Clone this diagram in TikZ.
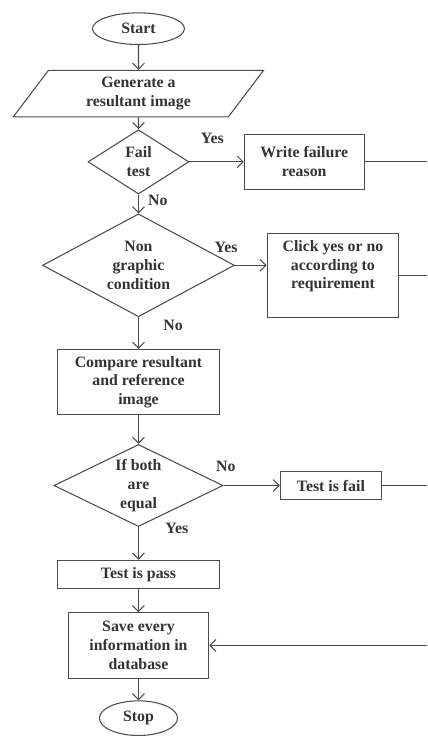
\documentclass[tikz,border=0pt]{standalone}
\usepackage{fontspec}
\setmainfont{Liberation Serif}
\usetikzlibrary{arrows.meta,positioning,shapes.geometric}

\begin{document}
\begin{tikzpicture}[
  font=\bfseries\fontsize{12}{14.25}\selectfont,
  every node/.style={text=black!80},
  process/.style={rectangle, draw=black!70, line width=0.8pt, align=center, inner sep=2pt},
  startstop/.style={ellipse, draw=black!70, line width=0.8pt, inner sep=0pt},
  io/.style={trapezium, trapezium left angle=43, trapezium right angle=137, trapezium stretches body, draw=black!70, line width=0.8pt, align=center, inner sep=0pt},
  decision/.style={diamond, draw=black!70, line width=0.8pt, align=center, inner sep=0pt},
  answer/.style={inner sep=1pt},
  arrow/.style={-{Straight Barb[length=4.5pt, width=9pt]}, draw=black!70, line width=0.8pt},
  line/.style={draw=black!70, line width=0.8pt}
]
\node[startstop, minimum width=69.75pt, minimum height=24pt] (start) {Start};
\node[io, below=18.75pt of start, minimum width=189.75pt, minimum height=35.25pt] (generate) {Generate a\\resultant image};
\node[decision, below=9pt of generate, shape aspect=1.57, minimum width=76.5pt, minimum height=48.75pt] (fail) {Fail\\test};
\node[decision, below=14.25pt of fail, shape aspect=1.87, minimum width=145.5pt, minimum height=78pt] (nongraphic) {Non\\graphic\\condition};
\node[process, below=24pt of nongraphic, minimum width=122.25pt, minimum height=49.5pt] (compare) {Compare resultant\\and reference\\image};
\node[decision, below=21.75pt of compare, shape aspect=2.06, minimum width=128.25pt, minimum height=62.25pt] (equal) {If both\\are\\equal};
\node[process, below=24.75pt of equal, minimum width=122.25pt, minimum height=21.75pt] (pass) {Test is pass};
\node[process, below=17.25pt of pass, minimum width=106.5pt, minimum height=49.5pt] (save) {Save every\\information in\\database};
\node[startstop, below=16.5pt of save, minimum width=59.25pt, minimum height=26.25pt] (stop) {Stop};

\node[process, right=41.25pt of fail, minimum width=90.75pt, minimum height=42pt] (write) {Write failure\\reason};
\node[process, right=24pt of nongraphic, yshift=-7.5pt, text depth=16pt, minimum width=99.75pt, minimum height=63.75pt] (click) {Click yes or no\\according to\\requirement};
\node[process, right=42.75pt of equal, minimum width=76.5pt, minimum height=21.75pt] (testfail) {Test is fail};

\coordinate (rim) at ([xshift=219pt]start.center);
\useasboundingbox ([xshift=-105pt, yshift=21.75pt]start.center) rectangle ([xshift=219pt, yshift=-530.25pt]start.center);

\draw[arrow] (start) -- (generate);
\draw[arrow] (generate) -- (fail);
\draw[arrow] (fail) -- (write) node[answer, pos=0.42, yshift=18pt] {Yes};
\draw[arrow] (fail) -- (nongraphic) node[answer, pos=0.32, right=6pt] {No};
\draw[arrow] (nongraphic.east) -- (nongraphic.east -| click.west) node[answer, pos=0, xshift=-6.75pt, yshift=13.5pt] {Yes};
\draw[arrow] (nongraphic) -- (compare) node[answer, pos=0.25, right=17.5pt] {No};
\draw[arrow] (compare) -- (equal);
\draw[arrow] (equal) -- (testfail) node[answer, pos=0.04, yshift=14.25pt] {No};
\draw[arrow] (equal) -- (pass) node[answer, pos=0.03, right=19pt] {Yes};
\draw[arrow] (pass) -- (save);
\draw[arrow] (save) -- (stop);

\draw[line] (write) -- (write -| rim);
\draw[line] (click.east) -- (click.east -| rim);
\draw[line] (testfail) -- (testfail -| rim);
\draw[arrow] (save -| rim) -- (save);
\end{tikzpicture}
\end{document}
